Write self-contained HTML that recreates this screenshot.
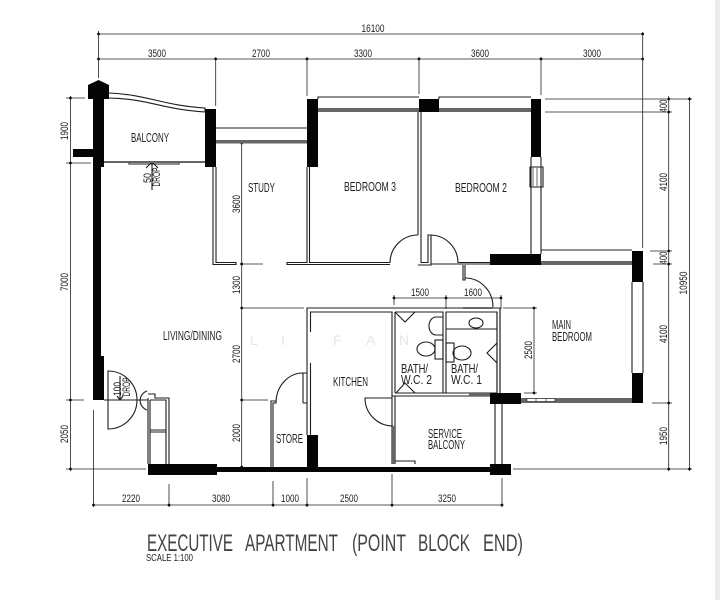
<!DOCTYPE html>
<html>
<head>
<meta charset="utf-8">
<style>
html,body{margin:0;padding:0;background:#fff;width:720px;height:600px;overflow:hidden}
svg{display:block}
text{font-family:"Liberation Sans",sans-serif;fill:#222}
.d{font-size:11px;text-anchor:middle}
.l{font-size:12.500px}
.t{font-size:24px;fill:#444}
.w{font-size:14px;fill:#e6e6e6}
</style>
</head>
<body>
<svg width="720" height="600" viewBox="0 0 720 600" xmlns="http://www.w3.org/2000/svg">
<rect width="720" height="600" fill="#fff"/>
<rect x="715" y="0" width="5" height="600" fill="#ececec"/>

<!-- dimension lines -->
<g stroke="#222" stroke-width="0.8" fill="none">
<path d="M98.500 34H642.700M98.500 59H642.700M98.500 31V78M215.700 57V106M307 57V96M419 57V94M541 57V95M642.700 32V248"/>
<path d="M70.500 96V471M66 98H85M66 163H91M66 400H84M66 469H146"/>
<path d="M93.500 410V507M93 505H502M169 484V507M273 481V507M307 478V507M392 474V507M502 478V507"/>
<path d="M241.700 143V467M240 264H263M241 308H304M241 400H268"/>
<path d="M668.700 96V471M689.500 97V471M545 99H692M545 112H672M650 251H672M653 264H672M652 403H672M513 469H692"/>
<path d="M394 298H501M394 295V305M446 295V309M501 295V309M534 308V393M503 308H537M524 393H537"/>
</g>
<g fill="#111">
<circle cx="98.500" cy="34" r="1.400"/><circle cx="642.700" cy="34" r="1.400"/>
<circle cx="98.500" cy="59" r="1.400"/><circle cx="215.700" cy="59" r="1.400"/><circle cx="307" cy="59" r="1.400"/><circle cx="419" cy="59" r="1.400"/><circle cx="541" cy="59" r="1.400"/><circle cx="642.700" cy="59" r="1.400"/>
<circle cx="70.500" cy="98" r="1.400"/><circle cx="70.500" cy="163" r="1.400"/><circle cx="70.500" cy="400" r="1.400"/><circle cx="70.500" cy="469" r="1.400"/>
<circle cx="93.500" cy="505" r="1.400"/><circle cx="169" cy="505" r="1.400"/><circle cx="273" cy="505" r="1.400"/><circle cx="307" cy="505" r="1.400"/><circle cx="392" cy="505" r="1.400"/><circle cx="502" cy="505" r="1.400"/>
<circle cx="241.700" cy="143" r="1.400"/><circle cx="241.700" cy="264" r="1.400"/><circle cx="241.700" cy="308" r="1.400"/><circle cx="241.700" cy="400" r="1.400"/><circle cx="241.700" cy="467" r="1.400"/>
<circle cx="668.700" cy="99" r="1.400"/><circle cx="668.700" cy="112" r="1.400"/><circle cx="668.700" cy="251" r="1.400"/><circle cx="668.700" cy="264" r="1.400"/><circle cx="668.700" cy="403" r="1.400"/><circle cx="668.700" cy="469" r="1.400"/>
<circle cx="689.500" cy="99" r="1.400"/><circle cx="689.500" cy="469" r="1.400"/>
<circle cx="394" cy="298" r="1.400"/><circle cx="446" cy="298" r="1.400"/><circle cx="501" cy="298" r="1.400"/>
<circle cx="534" cy="308" r="1.400"/><circle cx="534" cy="393" r="1.400"/>
</g>

<!-- thin walls -->
<g fill="none" stroke="#1c1c1c" stroke-width="1.100">
<path d="M109 93C150 95 160 105 205 108V112C160 109 150 99 109 98"/>
<path d="M216 128H307"/>
<path d="M318 99V97H419M439 99V97H531M541 250H632"/>
<path d="M213 167V264.500H236V262.500H216V167"/>
<path d="M307 167V262.500H287V264.500H390M309.500 167V262.500H390"/>
<path d="M418 112V235M421 112V262.500H428V235H431V265H418"/>
<path d="M431 264H490M458 262.500H490"/>
<path d="M531 157V254M541 157V254"/>
<path d="M530 167H543V187H530Z"/>
<path d="M533 167V187M537 167V187" stroke="#777"/>
<path d="M632 282V373M643 282V373"/>
<path d="M463 265V280H465V265"/>
<path d="M307 435V308H500V393M310.500 332V312H392V464M395 312V393M395 396V464"/>
<path d="M310.500 363V435"/>
<path d="M395 312H443V393H395M446 393V312H497V393H446"/>
<path d="M392 396H490M395 393H490"/>
<path d="M497 312V393M500 308V393"/>
<path d="M495 404V464M502 404V464M395 464V461H415V464"/>
<path d="M271 467V401H276V403H273V467M303 403V373H307M303 403H307"/>
<path d="M148 398V464M150 400V464M150 400H166V464M169 464V398H155V394H148M150 430H166M150 432H166"/>
<path d="M108 371A29 29 0 0 1 108 429ZM147 391A10 10 0 0 0 147 410M104 400H148"/>
<path d="M303 373A27 30 0 0 0 276 403"/>
<path d="M392 398H365A28 28 0 0 0 393 426"/>
<path d="M418 235A28 28 0 0 0 390 263M431 235A28 28 0 0 1 458 263"/>
<path d="M465 278A28 29 0 0 1 493 307"/>
<path d="M395 312L405 322L415 312M396 393L405 383L415 393"/>
<path d="M443 317H436A7 9 0 0 0 436 335H443"/>
<ellipse cx="426" cy="349" rx="9" ry="7"/>
<rect x="435" y="340" width="8" height="19"/>
<rect x="446" y="343" width="8" height="19"/>
<ellipse cx="462" cy="353" rx="9" ry="7"/>
<ellipse cx="476" cy="323" rx="7" ry="5"/>
<path d="M446 329H497M497 343L487 353L497 363"/>
<path d="M129 162V164H179V162"/>
<path d="M152 162V190M146 168L152 162L158 168M120 376V400M117 396L120 400L123 396"/>
</g>

<!-- grey double lines -->
<g fill="#666">
<rect x="216" y="140" width="91" height="3.500"/>
<rect x="318" y="108" width="101" height="4"/>
<rect x="439" y="108" width="92" height="4"/>
<rect x="541" y="261" width="91" height="4"/>
<rect x="104" y="161" width="101" height="2"/>
<rect x="463" y="307" width="30" height="2"/>
<rect x="392" y="426" width="3" height="38"/>
<rect x="469" y="393" width="21" height="3"/>
<rect x="521" y="398" width="111" height="5"/>
</g>
<rect x="527" y="398.500" width="28" height="3" fill="#fff" stroke="#333" stroke-width="0.700"/>
<path d="M536 398.500V401.500M546 398.500V401.500" stroke="#333" stroke-width="0.700"/>

<!-- solid black -->
<g fill="#050505">
<path d="M88 85L98.500 80L109 85V99H104V167H101V356H104V400H93V99H88Z"/>
<rect x="73" y="149" width="21" height="8"/>
<rect x="205" y="109" width="11" height="58"/>
<rect x="307" y="99" width="11" height="68"/>
<rect x="419" y="99" width="20" height="13"/>
<rect x="531" y="99" width="10" height="58"/>
<rect x="490" y="254" width="51" height="11"/>
<rect x="632" y="251" width="11" height="31"/>
<rect x="632" y="373" width="11" height="30"/>
<rect x="490" y="393" width="31" height="11"/>
<rect x="490" y="464" width="21" height="11"/>
<rect x="148" y="464" width="69" height="11"/>
<rect x="217" y="467" width="273" height="5"/>
<rect x="307" y="435" width="11" height="33"/>
</g>

<!-- watermark -->
<text class="w" x="250" y="345">L</text>
<text class="w" x="281" y="345">I</text>
<text class="w" x="333" y="345">F</text>
<text class="w" x="366" y="345">A</text>
<text class="w" x="399" y="345">N</text>

<!-- horizontal dimension labels -->
<text class="d" x="373" y="32" textLength="23" lengthAdjust="spacingAndGlyphs">16100</text>
<text class="d" x="157" y="57" textLength="18" lengthAdjust="spacingAndGlyphs">3500</text>
<text class="d" x="261" y="57" textLength="18" lengthAdjust="spacingAndGlyphs">2700</text>
<text class="d" x="363" y="57" textLength="18" lengthAdjust="spacingAndGlyphs">3300</text>
<text class="d" x="480" y="57" textLength="18" lengthAdjust="spacingAndGlyphs">3600</text>
<text class="d" x="592" y="57" textLength="18" lengthAdjust="spacingAndGlyphs">3000</text>
<text class="d" x="131" y="502" textLength="18" lengthAdjust="spacingAndGlyphs">2220</text>
<text class="d" x="221" y="502" textLength="18" lengthAdjust="spacingAndGlyphs">3080</text>
<text class="d" x="290" y="502" textLength="18" lengthAdjust="spacingAndGlyphs">1000</text>
<text class="d" x="349" y="502" textLength="18" lengthAdjust="spacingAndGlyphs">2500</text>
<text class="d" x="447" y="502" textLength="18" lengthAdjust="spacingAndGlyphs">3250</text>
<text class="d" x="420" y="296" textLength="18" lengthAdjust="spacingAndGlyphs">1500</text>
<text class="d" x="473" y="296" textLength="18" lengthAdjust="spacingAndGlyphs">1600</text>

<!-- rotated dimension labels -->
<text class="d" transform="translate(68 131) rotate(-90)" textLength="18" lengthAdjust="spacingAndGlyphs">1900</text>
<text class="d" transform="translate(68 282) rotate(-90)" textLength="18" lengthAdjust="spacingAndGlyphs">7000</text>
<text class="d" transform="translate(68 434) rotate(-90)" textLength="18" lengthAdjust="spacingAndGlyphs">2050</text>
<text class="d" transform="translate(240 204) rotate(-90)" textLength="18" lengthAdjust="spacingAndGlyphs">3600</text>
<text class="d" transform="translate(240 285) rotate(-90)" textLength="18" lengthAdjust="spacingAndGlyphs">1300</text>
<text class="d" transform="translate(240 354) rotate(-90)" textLength="18" lengthAdjust="spacingAndGlyphs">2700</text>
<text class="d" transform="translate(240 433) rotate(-90)" textLength="18" lengthAdjust="spacingAndGlyphs">2000</text>
<text class="d" transform="translate(667 106) rotate(-90)" textLength="13" lengthAdjust="spacingAndGlyphs">400</text>
<text class="d" transform="translate(667 182) rotate(-90)" textLength="18" lengthAdjust="spacingAndGlyphs">4100</text>
<text class="d" transform="translate(667 258) rotate(-90)" textLength="13" lengthAdjust="spacingAndGlyphs">400</text>
<text class="d" transform="translate(667 334) rotate(-90)" textLength="18" lengthAdjust="spacingAndGlyphs">4100</text>
<text class="d" transform="translate(667 436) rotate(-90)" textLength="18" lengthAdjust="spacingAndGlyphs">1950</text>
<text class="d" transform="translate(687 283) rotate(-90)" textLength="23" lengthAdjust="spacingAndGlyphs">10950</text>
<text class="d" transform="translate(532 350) rotate(-90)" textLength="18" lengthAdjust="spacingAndGlyphs">2500</text>

<!-- drop labels -->
<text class="d" transform="translate(151 178) rotate(-90)" textLength="10" lengthAdjust="spacingAndGlyphs">50</text>
<text class="d" transform="translate(160 177) rotate(-90)" textLength="19" lengthAdjust="spacingAndGlyphs">DROP</text>
<text class="d" transform="translate(121 389) rotate(-90)" textLength="14" lengthAdjust="spacingAndGlyphs">100</text>
<text class="d" transform="translate(130 387) rotate(-90)" textLength="19" lengthAdjust="spacingAndGlyphs">DROP</text>

<!-- room labels -->
<text class="l" x="131" y="142" textLength="38" lengthAdjust="spacingAndGlyphs">BALCONY</text>
<text class="l" x="248" y="192" textLength="27" lengthAdjust="spacingAndGlyphs">STUDY</text>
<text class="l" x="344" y="191" textLength="52" lengthAdjust="spacingAndGlyphs">BEDROOM 3</text>
<text class="l" x="455" y="192" textLength="52" lengthAdjust="spacingAndGlyphs">BEDROOM 2</text>
<text class="l" x="163" y="340" textLength="59" lengthAdjust="spacingAndGlyphs">LIVING/DINING</text>
<text class="l" x="333" y="386" textLength="35" lengthAdjust="spacingAndGlyphs">KITCHEN</text>
<text class="l" x="276" y="443" textLength="27" lengthAdjust="spacingAndGlyphs">STORE</text>
<text class="l" x="401" y="373" textLength="27" lengthAdjust="spacingAndGlyphs">BATH/</text>
<text class="l" x="401" y="384" textLength="31" lengthAdjust="spacingAndGlyphs">W.C. 2</text>
<text class="l" x="451" y="373" textLength="27" lengthAdjust="spacingAndGlyphs">BATH/</text>
<text class="l" x="451" y="384" textLength="31" lengthAdjust="spacingAndGlyphs">W.C. 1</text>
<text class="l" x="552" y="329" textLength="19" lengthAdjust="spacingAndGlyphs">MAIN</text>
<text class="l" x="552" y="341" textLength="40" lengthAdjust="spacingAndGlyphs">BEDROOM</text>
<text class="l" x="428" y="438" textLength="34" lengthAdjust="spacingAndGlyphs">SERVICE</text>
<text class="l" x="428" y="449" textLength="37" lengthAdjust="spacingAndGlyphs">BALCONY</text>

<!-- title -->
<text class="t" x="147" y="551" textLength="86" lengthAdjust="spacingAndGlyphs">EXECUTIVE</text>
<text class="t" x="245" y="551" textLength="93" lengthAdjust="spacingAndGlyphs">APARTMENT</text>
<text class="t" x="352" y="551" textLength="54" lengthAdjust="spacingAndGlyphs">(POINT</text>
<text class="t" x="418" y="551" textLength="52" lengthAdjust="spacingAndGlyphs">BLOCK</text>
<text class="t" x="483" y="551" textLength="40" lengthAdjust="spacingAndGlyphs">END)</text>
<text x="146" y="561" style="font-size:10px" textLength="47" lengthAdjust="spacingAndGlyphs">SCALE 1:100</text>
</svg>
</body>
</html>
